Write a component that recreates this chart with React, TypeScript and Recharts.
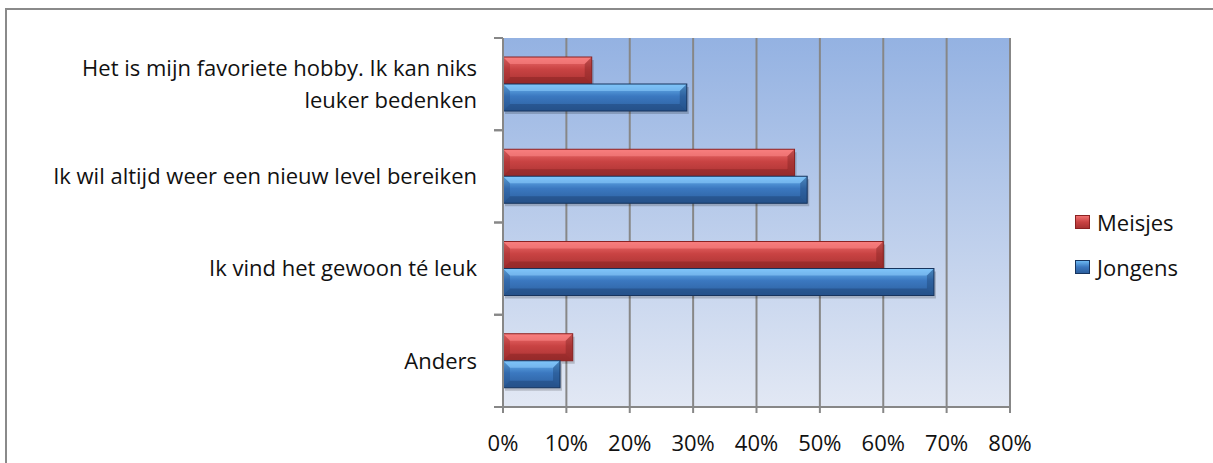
import React from "react";
import {
  BarChart,
  Bar,
  XAxis,
  YAxis,
  CartesianGrid,
} from "recharts";

const categories = [
  "Het is mijn favoriete hobby. Ik kan niks|leuker bedenken",
  "Ik wil altijd weer een nieuw level bereiken",
  "Ik vind het gewoon té leuk",
  "Anders",
];
const meisjes = [14, 46, 60, 11];
const jongens = [29, 48, 68, 9];
const xTicks = [0, 10, 20, 30, 40, 50, 60, 70, 80];
const legendItems = [
  { label: "Meisjes", tone: "red" },
  { label: "Jongens", tone: "blue" },
];

const W = 1213;
const H = 463;
const TOP = 38;
const BOTTOM = 407;
const LEFT = 503;
const RIGHT = 1010;
const FONT = "'Open Sans', sans-serif";
const FS = 22;
const GRID = "#878787";

const data = categories.map((c, i) => ({
  name: c,
  Meisjes: meisjes[i],
  Jongens: jongens[i],
}));

const bandSize = (BOTTOM - TOP) / categories.length;

const palettes: Record<string, { top: string; mid: string; bot: string; light: string; dark: string; edge: string }> = {
  red: { top: "#f07070", mid: "#c94343", bot: "#a83232", light: "#ff8a8a", dark: "#7e2020", edge: "#8a2222" },
  blue: { top: "#6cb8f2", mid: "#3b78c0", bot: "#2c5f9e", light: "#8fd0ff", dark: "#1c4070", edge: "#17345e" },
};

const BevelBar = (props: any) => {
  const { x, y, width, height, tone } = props;
  if (!width || width <= 0) return null;
  const p = palettes[tone];
  const b = Math.min(7, height / 3, width / 3);
  const id = `face-${tone}`;
  return (
    <g>
      <rect x={x + 2} y={y + 3} width={width} height={height} fill="rgba(0,0,0,0.18)" />
      <rect x={x} y={y} width={width} height={height} fill={`url(#${id})`} />
      <polygon points={`${x},${y} ${x + width},${y} ${x + width - b},${y + b} ${x + b},${y + b}`} fill={p.light} opacity={0.55} />
      <polygon points={`${x},${y + height} ${x + width},${y + height} ${x + width - b},${y + height - b} ${x + b},${y + height - b}`} fill={p.dark} opacity={0.45} />
      <polygon points={`${x},${y} ${x + b},${y + b} ${x + b},${y + height - b} ${x},${y + height}`} fill={p.dark} opacity={0.25} />
      <polygon points={`${x + width},${y} ${x + width - b},${y + b} ${x + width - b},${y + height - b} ${x + width},${y + height}`} fill={p.dark} opacity={0.4} />
      <rect x={x} y={y} width={width} height={height} fill="none" stroke={p.edge} strokeWidth={1} />
    </g>
  );
};

const CategoryTick = (props: any) => {
  const { x, y, payload } = props;
  const lines: string[] = String(payload.value).split("|");
  const lh = 32;
  const start = -((lines.length - 1) * lh) / 2;
  return (
    <g>
      <line x1={LEFT - 9} x2={LEFT} y1={y - bandSize / 2} y2={y - bandSize / 2} stroke={GRID} strokeWidth={2} />
      <line x1={LEFT - 9} x2={LEFT} y1={y + bandSize / 2} y2={y + bandSize / 2} stroke={GRID} strokeWidth={2} />
      <text x={x - 18} y={y} textAnchor="end" fill="#111" fontSize={FS} fontFamily={FONT}>
        {lines.map((l, i) => (
          <tspan key={i} x={x - 18} y={y + start + i * lh} dy="0.35em">
            {l}
          </tspan>
        ))}
      </text>
    </g>
  );
};

const LegendBox = () => (
  <div style={{ position: "absolute", left: 1075, top: 199, fontFamily: FONT, fontSize: FS, color: "#111" }}>
    {legendItems.map((it) => {
      const p = palettes[it.tone];
      return (
        <div key={it.label} style={{ display: "flex", alignItems: "center", height: 45, whiteSpace: "nowrap" }}>
          <span
            style={{
              display: "inline-block",
              width: 15,
              height: 14,
              marginRight: 7,
              background: `linear-gradient(${p.top}, ${p.mid} 50%, ${p.bot})`,
              border: `1px solid ${p.edge}`,
              boxSizing: "border-box",
            }}
          />
          {it.label}
        </div>
      );
    })}
  </div>
);

export default function App() {
  return (
    <div style={{ position: "absolute", left: 0, top: 0, width: W, height: H, background: "#fff", overflow: "hidden" }}>
      <svg width={0} height={0} style={{ position: "absolute" }}>
        <defs>
          <linearGradient id="plotBg" x1="0" y1="0" x2="0" y2="1">
            <stop offset="0%" stopColor="#94b2e2" />
            <stop offset="100%" stopColor="#e2e8f4" />
          </linearGradient>
          {Object.keys(palettes).map((k) => (
            <linearGradient key={k} id={`face-${k}`} x1="0" y1="0" x2="0" y2="1">
              <stop offset="0%" stopColor={palettes[k].top} />
              <stop offset="45%" stopColor={palettes[k].mid} />
              <stop offset="100%" stopColor={palettes[k].bot} />
            </linearGradient>
          ))}
        </defs>
      </svg>
      <div
        style={{
          position: "absolute",
          left: 5,
          top: 8,
          width: W,
          height: H,
          border: "2px solid #8a8a8a",
          boxSizing: "border-box",
        }}
      />
      <div style={{ position: "absolute", left: 0, top: 0 }}>
        <BarChart
          width={W}
          height={H}
          data={data}
          layout="vertical"
          barGap={0}
          barCategoryGap={19}
          margin={{ top: TOP, right: W - RIGHT, left: 13, bottom: H - BOTTOM - 30 }}
        >
          <CartesianGrid horizontal={false} stroke={GRID} strokeWidth={2} fill="url(#plotBg)" fillOpacity={1} />
          <XAxis
            type="number"
            domain={[0, 80]}
            ticks={xTicks}
            interval={0}
            tickFormatter={(v) => `${v}%`}
            height={30}
            stroke={GRID}
            strokeWidth={2}
            tickSize={6}
            tickMargin={22}
            tick={{ fill: "#111", fontSize: FS, fontFamily: FONT }}
          />
          <YAxis
            type="category"
            dataKey="name"
            width={490}
            stroke={GRID}
            strokeWidth={2}
            tickLine={false}
            tick={<CategoryTick />}
            interval={0}
          />
          <Bar dataKey="Meisjes" isAnimationActive={false} shape={<BevelBar tone="red" />} />
          <Bar dataKey="Jongens" isAnimationActive={false} shape={<BevelBar tone="blue" />} />
        </BarChart>
      </div>
      <LegendBox />
    </div>
  );
}
